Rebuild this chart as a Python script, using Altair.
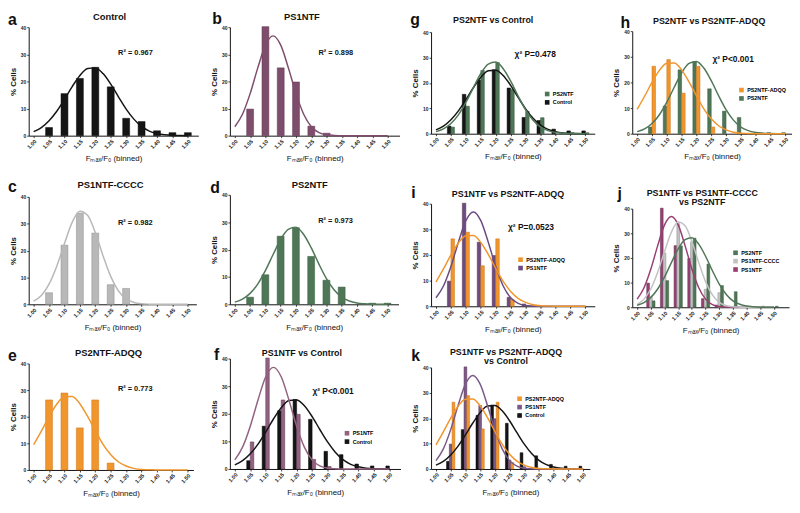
import altair as alt
import pandas as pd

FONT = "Arial"

# ---------------- data ----------------
bins = [1.05, 1.10, 1.15, 1.20, 1.25, 1.30, 1.35, 1.40, 1.45, 1.50]
control_pct = [3.0, 15.5, 21.1, 25.2, 18.0, 6.4, 5.2, 1.8, 1.1, 1.1]
ps1ntf_pct = [9.8, 40.2, 25.0, 19.8, 3.5, 0.9, 0, 0, 0, 0]
ps1ntf_cccc_pct = [4.3, 22.0, 33.9, 26.5, 7.3, 5.9, 0, 0, 0, 0]
ps2ntf_pct = [2.6, 10.8, 24.9, 28.0, 17.5, 8.8, 6.3, 0, 0.4, 0.4]
ps2ntf_adqq_pct = [26.3, 28.9, 15.8, 26.3, 2.6, 0, 0, 0, 0, 0]

fit_x = [1.000, 1.025, 1.050, 1.075, 1.100, 1.125, 1.150, 1.175, 1.200, 1.225, 1.250,
         1.275, 1.300, 1.325, 1.350, 1.375, 1.400, 1.425, 1.450, 1.475, 1.500]
control_fit = [1.5, 3.0, 5.5, 9.0, 13.4, 18.1, 22.2, 24.8, 25.0, 22.9, 19.0,
               14.3, 9.8, 6.1, 3.4, 1.7, 0.8, 0.3, 0.1, 0.05, 0.0]
ps1ntf_fit = [3.3, 7.9, 15.5, 25.0, 33.4, 36.8, 33.4, 25.0, 15.5, 7.9, 3.3,
              1.1, 0.3, 0.1, 0.0, 0.0, 0.0, 0.0, 0.0, 0.0, 0.0]
ps1ntf_cccc_fit = [1.2, 3.3, 7.5, 14.2, 22.6, 30.5, 34.6, 33.1, 26.7, 18.1, 10.4,
                   5.0, 2.0, 0.7, 0.2, 0.05, 0.0, 0.0, 0.0, 0.0, 0.0]
ps2ntf_fit = [0.8, 1.9, 4.0, 7.4, 12.3, 18.1, 23.7, 27.4, 28.2, 25.6, 20.7,
              14.8, 9.4, 5.3, 2.6, 1.2, 0.5, 0.2, 0.05, 0.0, 0.0]
ps2ntf_adqq_fit = [9.5, 14.6, 20.0, 24.7, 27.5, 27.6, 24.9, 20.2, 14.8, 9.7, 5.8,
                   3.1, 1.5, 0.6, 0.2, 0.1, 0.0, 0.0, 0.0, 0.0, 0.0]

x_ticks = [1.00, 1.05, 1.10, 1.15, 1.20, 1.25, 1.30, 1.35, 1.40, 1.45, 1.50]
y_ticks = [0, 10, 20, 30, 40]

SERIES = ["Control", "PS1NTF", "PS1NTF-CCCC", "PS2NTF", "PS2NTF-ADQQ"]
COLORS = {
    "Control": "#151515",
    "PS1NTF": "#7f4d6c",
    "PS1NTF-CCCC": "#b8b8b8",
    "PS2NTF": "#4f7757",
    "PS2NTF-ADQQ": "#f1952d",
}
EDGES = {
    "Control": "#000000",
    "PS1NTF": "#5c3450",
    "PS1NTF-CCCC": "#8c8c8c",
    "PS2NTF": "#385a40",
    "PS2NTF-ADQQ": "#c97418",
}
bar_values = dict(zip(SERIES, [control_pct, ps1ntf_pct, ps1ntf_cccc_pct, ps2ntf_pct, ps2ntf_adqq_pct]))
fit_values = dict(zip(SERIES, [control_fit, ps1ntf_fit, ps1ntf_cccc_fit, ps2ntf_fit, ps2ntf_adqq_fit]))

bars_df = pd.DataFrame([
    {"series": s, "bin": b, "pct": v}
    for s in SERIES for b, v in zip(bins, bar_values[s]) if v > 0
])
fits_df = pd.DataFrame([
    {"series": s, "bin": x, "pct": v}
    for s in SERIES for x, v in zip(fit_x, fit_values[s])
])
one = pd.DataFrame({"k": [0]})

X_TITLE = "Fₘₐₓ/F₀ (binned)"
LDX, LDY = 4, 6  # shift applied to the panel letters


def panel(order, letter, letter_xy, title, title_xy, plot_w, x_max, cell_w, cell_h, y_top,
          note=None, note_xy=None, note_align="center", note_size=7.5,
          legend_order=None, legend_xy=None, title_size=9.5, recolor=None):
    colors = dict(COLORS)
    if recolor:
        colors.update(recolor)
    n = len(order)
    bar_w = {1: 7.0, 2: 3.6, 3: 2.8}[n]
    xscale = alt.Scale(domain=[1.0, x_max], range=[0, plot_w], nice=False, zero=False)
    yscale = alt.Scale(domain=[0, 40], range=[cell_h, y_top], nice=False)
    dom = legend_order if legend_order else order
    cscale = alt.Scale(domain=dom, range=[colors[s] for s in dom])
    if legend_order:
        legend = alt.Legend(orient="none", legendX=legend_xy[0], legendY=legend_xy[1], title=None,
                            symbolType="square", symbolSize=22, symbolStrokeWidth=0,
                            labelFontSize=5.5, labelFontWeight="bold", labelFont=FONT,
                            labelOffset=3, rowPadding=1.5, padding=0)
    else:
        legend = None
    xaxis = alt.Axis(values=x_ticks, format=".2f", labelAngle=-45, labelFontSize=5.5,
                     labelFontWeight="bold", labelPadding=1, tickSize=2, tickWidth=0.8,
                     labelOverlap=False, labelFlush=False, labelBound=False,
                     domainWidth=1, title=X_TITLE, titleFontSize=8, titleFontWeight="normal",
                     titlePadding=5, grid=False, labelFont=FONT, titleFont=FONT,
                     domainColor="#111", tickColor="#111", labelColor="#222", titleColor="#111")
    yaxis = alt.Axis(values=y_ticks, format="d", labelFontSize=5, labelFontWeight="bold",
                     labelPadding=1, tickSize=2, tickWidth=0.8, domainWidth=1,
                     labelOverlap=False, labelFlush=False,
                     title="% Cells", titleFontSize=8, titleFontWeight="bold", titlePadding=3,
                     grid=False, labelFont=FONT, titleFont=FONT,
                     domainColor="#111", tickColor="#111", labelColor="#222", titleColor="#111")
    xenc = dict(scale=xscale, axis=xaxis)
    yenc = dict(scale=yscale, axis=yaxis)
    layers = []
    for i, s in enumerate(order):
        off = (i - (n - 1) / 2.0) * bar_w
        layers.append(
            alt.Chart(bars_df).transform_filter(alt.datum.series == s)
            .mark_bar(size=bar_w, xOffset=off, stroke=EDGES[s], strokeWidth=0.5)
            .encode(x=alt.X("bin:Q", **xenc), y=alt.Y("pct:Q", **yenc),
                    color=alt.Color("series:N", scale=cscale, legend=legend))
        )
    for s in order:
        layers.append(
            alt.Chart(fits_df).transform_filter(alt.datum.series == s)
            .mark_line(strokeWidth=1.5, interpolate="monotone")
            .encode(x=alt.X("bin:Q", **xenc), y=alt.Y("pct:Q", **yenc),
                    color=alt.Color("series:N", scale=cscale, legend=legend))
        )
    if note:
        layers.append(
            alt.Chart(one).mark_text(text=note, fontSize=note_size, fontWeight="bold", font=FONT,
                                     align=note_align, baseline="middle", color="#111")
            .encode(x=alt.X(datum=note_xy[0], **xenc), y=alt.Y(datum=note_xy[1], **yenc))
        )
    if isinstance(title, list):
        tmark = alt.Chart(one).mark_text(text=title, fontSize=title_size, fontWeight="bold", font=FONT,
                                         align="center", baseline="middle", lineHeight=9.5, color="#111")
    else:
        tmark = alt.Chart(one).mark_text(text=title, fontSize=title_size, fontWeight="bold", font=FONT,
                                         align="center", baseline="middle", color="#111")
    layers.append(tmark.encode(x=alt.value(title_xy[0]), y=alt.value(title_xy[1])))
    layers.append(
        alt.Chart(one).mark_text(text=letter, fontSize=16, fontWeight="bold", font=FONT,
                                 align="left", baseline="alphabetic", color="#111")
        .encode(x=alt.value(letter_xy[0] + LDX), y=alt.value(letter_xy[1] + LDY))
    )
    return alt.layer(*layers).properties(width=cell_w, height=cell_h)


CW = [194, 200, 204, 162]

a = panel(["Control"], "a", (-25, -8), "Control", (82, -10), 172, 1.518, CW[0], 110, 0,
          note="R² = 0.967", note_xy=(1.33, 30.3))
b = panel(["PS1NTF"], "b", (-22, -9), "PS1NTF", (73, -10), 172, 1.522, CW[1], 110, 0,
          note="R² = 0.898", note_xy=(1.33, 30.3))
g = panel(["Control", "PS2NTF"], "g", (-25, -8), "PS2NTF vs Control", (63, -7), 166, 1.515, CW[2], 108, 5,
          note="χ² P=0.478", note_xy=(1.263, 31.5), note_align="left", note_size=8.5,
          legend_order=["PS2NTF", "Control"], legend_xy=(115, 65), title_size=9)
h = panel(["PS2NTF", "PS2NTF-ADQQ"], "h", (-16, -5), "PS2NTF vs PS2NTF-ADQQ", (78, -6), 162, 1.506, CW[3], 108, 4,
          note="χ² P<0.001", note_xy=(1.254, 29.2), note_align="left", note_size=8.5,
          legend_order=["PS2NTF-ADQQ", "PS2NTF"], legend_xy=(108, 61), title_size=9)
c = panel(["PS1NTF-CCCC"], "c", (-25, -7), "PS1NTF-CCCC", (83, -8), 170, 1.512, CW[0], 113, 4,
          note="R² = 0.982", note_xy=(1.33, 30.3))
d = panel(["PS2NTF"], "d", (-24, -6), "PS2NTF", (81, -8), 171, 1.52, CW[1], 113, 2,
          note="R² = 0.973", note_xy=(1.33, 30.3))
i_ = panel(["PS1NTF", "PS2NTF-ADQQ"], "i", (-24, -1), "PS1NTF vs PS2NTF-ADQQ", (78, 1), 166, 1.515, CW[2], 115, 11,
           note="χ² P=0.0523", note_xy=(1.241, 30.8), note_align="left", note_size=8.5,
           legend_order=["PS2NTF-ADQQ", "PS1NTF"], legend_xy=(88, 65), title_size=9,
           recolor={"PS1NTF": "#6c4b80"})
j = panel(["PS1NTF", "PS1NTF-CCCC", "PS2NTF"], "j", (-19, 0), ["PS1NTF vs PS1NTF-CCCC", "vs PS2NTF"], (71, 0),
          159, 1.537, CW[3], 116, 16,
          legend_order=["PS2NTF", "PS1NTF-CCCC", "PS1NTF"], legend_xy=(102, 58), title_size=9,
          recolor={"PS1NTF": "#983f72", "PS1NTF-CCCC": "#c2c2c2"})
e = panel(["PS2NTF-ADQQ"], "e", (-25, -4), "PS2NTF-ADQQ", (81, -6), 167, 1.503, CW[0], 113, 5,
          note="R² = 0.773", note_xy=(1.33, 30.3))
f = panel(["Control", "PS1NTF"], "f", (-20, -5), "PS1NTF vs Control", (73, -6), 173, 1.52, CW[1], 112, 0,
          note="χ² P<0.001", note_xy=(1.251, 28.2), note_align="left", note_size=8.5,
          legend_order=["PS1NTF", "Control"], legend_xy=(116, 73), title_size=9,
          recolor={"PS1NTF": "#936281"})
k = panel(["Control", "PS1NTF", "PS2NTF-ADQQ"], "k", (-24, -3), ["PS1NTF vs PS2NTF-ADQQ", "vs Control"], (76, -7),
          161, 1.506, CW[2], 112, 9,
          legend_order=["PS2NTF-ADQQ", "PS1NTF", "Control"], legend_xy=(87, 38), title_size=9,
          recolor={"PS1NTF": "#7a5a8b"})

chart = alt.concat(
    a, b, g, h, c, d, i_, j, e, f, k,
    columns=4, spacing={"row": 52, "column": 0}, bounds="flush", align="all"
).resolve_scale(
    x="independent", y="independent", color="independent"
).properties(
    padding={"left": 0, "top": 0, "right": 0, "bottom": 0},
    background="white",
).configure_view(stroke=None)

chart.save("out.html", embed_options={"renderer": "svg", "actions": False})
